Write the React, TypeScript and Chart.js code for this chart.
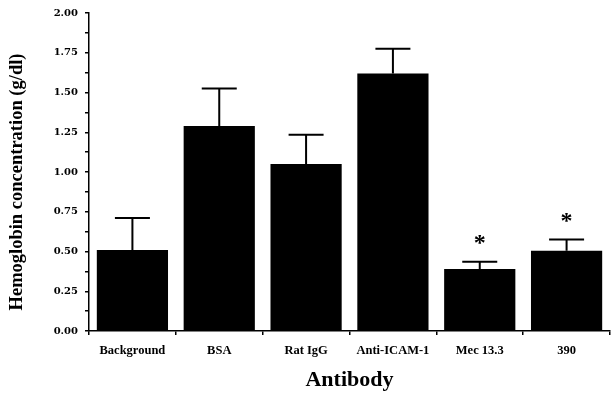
import React, { useEffect, useRef } from "react";
import { Chart, registerables } from "chart.js";

Chart.register(...registerables);

const categories = ["Background", "BSA", "Rat IgG", "Anti-ICAM-1", "Mec 13.3", "390"];
const means = [0.51, 1.29, 1.05, 1.62, 0.39, 0.505];
const errorTops = [0.71, 1.525, 1.235, 1.775, 0.435, 0.575];
const marks = ["", "", "", "", "*", "*"];
const yTickStep = 0.125;
const yTitle = "Hemoglobin concentration (g/dl)";

const FONT = "'Liberation Serif', 'DejaVu Serif', serif";
const NUMFONT = "'DejaVu Serif', 'Liberation Serif', serif";

const errorBarPlugin = {
  id: "errorBars",
  afterDatasetsDraw(chart: any) {
    const ctx = chart.ctx;
    const meta = chart.getDatasetMeta(0);
    const y = chart.scales.y;
    ctx.save();
    ctx.strokeStyle = "#000";
    ctx.lineWidth = 2;
    meta.data.forEach((bar: any, i: number) => {
      const x = bar.x;
      const yb = y.getPixelForValue(means[i]);
      const yt = y.getPixelForValue(errorTops[i]);
      ctx.beginPath();
      ctx.moveTo(x, yb);
      ctx.lineTo(x, yt);
      ctx.moveTo(x - 17.5, yt);
      ctx.lineTo(x + 17.5, yt);
      ctx.stroke();
      if (marks[i]) {
        ctx.fillStyle = "#000";
        ctx.font = "bold 24px " + FONT;
        ctx.textAlign = "center";
        ctx.textBaseline = "middle";
        ctx.fillText(marks[i], x, yt - 18);
      }
    });
    // y-axis title, placed slightly below the scale's centre as in the source figure
    const area = chart.chartArea;
    ctx.save();
    ctx.translate(17, (area.top + area.bottom) / 2 + 10);
    ctx.rotate(-Math.PI / 2);
    ctx.fillStyle = "#000";
    ctx.font = "bold 18.5px " + FONT;
    ctx.textAlign = "center";
    ctx.textBaseline = "middle";
    ctx.fillText(yTitle, 0, 0);
    ctx.restore();
    ctx.restore();
  },
};

export default function App() {
  const ref = useRef<HTMLCanvasElement>(null);
  useEffect(() => {
    const chart = new Chart(ref.current!, {
      type: "bar",
      data: {
        labels: categories,
        datasets: [
          {
            data: means,
            backgroundColor: "#000",
            borderWidth: 0,
            categoryPercentage: 1,
            barPercentage: 0.82,
          },
        ],
      },
      plugins: [errorBarPlugin],
      options: {
        animation: false,
        responsive: true,
        maintainAspectRatio: false,
        layout: { padding: { top: 12, right: 2, left: 0, bottom: 0 } },
        plugins: { legend: { display: false }, tooltip: { enabled: false } },
        scales: {
          x: {
            grid: { drawOnChartArea: false, color: "#000", tickLength: 4, lineWidth: 1.5, offset: true },
            border: { color: "#000", width: 1.5 },
            ticks: { color: "#000", font: { family: FONT, size: 12.5, weight: "bold" }, padding: 8, maxRotation: 0 },
            title: {
              display: true,
              text: "Antibody",
              color: "#000",
              font: { family: FONT, size: 22, weight: "bold" },
              padding: { top: 9, bottom: 0 },
            },
            afterFit(scale: any) {
              scale.height = 63;
            },
          },
          y: {
            min: 0,
            max: 2,
            grid: { drawOnChartArea: false, color: "#000", tickLength: 4, lineWidth: 1.5 },
            border: { color: "#000", width: 1.5 },
            ticks: {
              stepSize: yTickStep,
              autoSkip: false,
              color: "#000",
              font: { family: NUMFONT, size: 10, weight: "bold" },
              padding: 7,
              callback: (v: any) => (Math.round(v * 8) % 2 === 0 ? Number(v).toFixed(2) : ""),
            },
            title: { display: false },
            afterFit(scale: any) {
              scale.width = 89;
            },
          },
        },
      },
    });
    return () => chart.destroy();
  }, []);
  return (
    <div style={{ position: "fixed", left: 0, top: 0, width: 612, height: 394, background: "#fff" }}>
      <canvas ref={ref} />
    </div>
  );
}
